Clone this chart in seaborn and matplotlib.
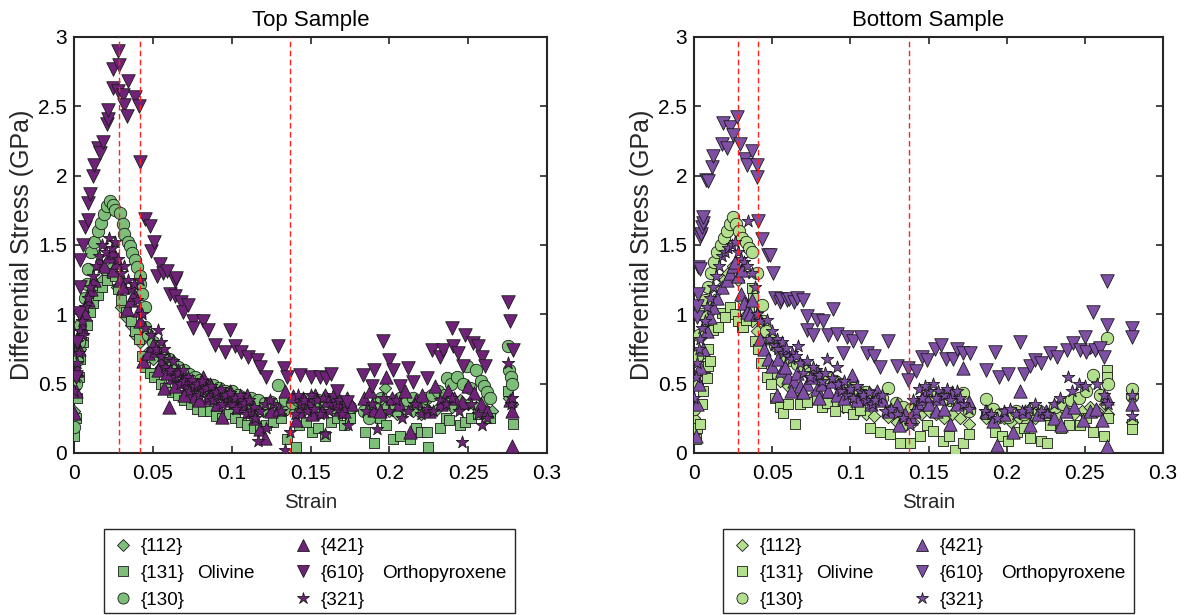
import numpy as np
import pandas as pd
import seaborn as sns
import matplotlib
matplotlib.use("Agg")
import matplotlib.pyplot as plt
from matplotlib.lines import Line2D
from matplotlib.patches import Rectangle

# ---------------------------------------------------------------------------
# Lattice-plane stresses (strain, differential stress in GPa)
# ---------------------------------------------------------------------------
top_112 = [(0.000, 0.30), (0.002, 0.55), (0.004, 0.75), (0.006, 0.90), (0.008, 1.00), (0.010, 1.05),
           (0.012, 1.10), (0.015, 1.20), (0.018, 1.25), (0.021, 1.30), (0.024, 1.35), (0.027, 1.20),
           (0.030, 1.05), (0.033, 0.98), (0.036, 0.92), (0.039, 0.85), (0.042, 0.80), (0.046, 0.72),
           (0.050, 0.68), (0.055, 0.62), (0.060, 0.58), (0.065, 0.55), (0.070, 0.50), (0.075, 0.48),
           (0.080, 0.45), (0.085, 0.42), (0.090, 0.40), (0.095, 0.38), (0.100, 0.36), (0.105, 0.35),
           (0.110, 0.33), (0.115, 0.30), (0.120, 0.30), (0.125, 0.28), (0.130, 0.30), (0.135, 0.32),
           (0.140, 0.30), (0.145, 0.33), (0.150, 0.30), (0.155, 0.28), (0.160, 0.32), (0.165, 0.30),
           (0.170, 0.33), (0.175, 0.30), (0.185, 0.32), (0.190, 0.35), (0.197, 0.47), (0.200, 0.30),
           (0.205, 0.28), (0.210, 0.32), (0.215, 0.30), (0.220, 0.28), (0.225, 0.30), (0.230, 0.32),
           (0.235, 0.35), (0.240, 0.33), (0.245, 0.38), (0.250, 0.35), (0.255, 0.33), (0.260, 0.38),
           (0.265, 0.30), (0.276, 0.40), (0.278, 0.35)]

top_131 = [(0.000, 0.12), (0.001, 0.25), (0.002, 0.40), (0.003, 0.55), (0.004, 0.68), (0.006, 0.80),
           (0.008, 0.92), (0.010, 1.02), (0.012, 1.08), (0.015, 1.14), (0.018, 1.20), (0.021, 1.25),
           (0.024, 1.30), (0.026, 1.28), (0.028, 1.18), (0.030, 1.10), (0.033, 1.02), (0.036, 0.95),
           (0.039, 0.88), (0.041, 0.82), (0.043, 0.70), (0.045, 0.62), (0.048, 0.58), (0.051, 0.55),
           (0.055, 0.50), (0.058, 0.47), (0.062, 0.44), (0.066, 0.42), (0.070, 0.38), (0.074, 0.35),
           (0.078, 0.32), (0.082, 0.30), (0.086, 0.30), (0.090, 0.27), (0.094, 0.25), (0.098, 0.28),
           (0.102, 0.25), (0.106, 0.22), (0.110, 0.20), (0.114, 0.18), (0.118, 0.17), (0.122, 0.20),
           (0.126, 0.22), (0.131, 0.25), (0.135, 0.10), (0.141, 0.04), (0.143, 0.20), (0.147, 0.22),
           (0.151, 0.15), (0.155, 0.18), (0.159, 0.12), (0.163, 0.22), (0.167, 0.25), (0.171, 0.20),
           (0.175, 0.25), (0.1845, 0.15), (0.190, 0.07), (0.194, 0.25), (0.198, 0.20), (0.2025, 0.10),
           (0.207, 0.12), (0.213, 0.10), (0.217, 0.18), (0.220, 0.15), (0.2236, 0.15), (0.2247, 0.045),
           (0.232, 0.18), (0.236, 0.25), (0.238, 0.24), (0.2448, 0.20), (0.248, 0.22), (0.252, 0.25),
           (0.256, 0.28), (0.260, 0.30), (0.264, 0.25), (0.275, 0.45), (0.2786, 0.21)]

top_130 = [(0.000, 0.19), (0.001, 0.50), (0.002, 0.67), (0.003, 0.80), (0.004, 0.92), (0.005, 1.02),
           (0.007, 1.12), (0.008, 1.22), (0.009, 1.33), (0.011, 1.45), (0.013, 1.52), (0.015, 1.60),
           (0.017, 1.66), (0.019, 1.72), (0.021, 1.78), (0.023, 1.82), (0.025, 1.79), (0.026, 1.75),
           (0.029, 1.73), (0.031, 1.65), (0.032, 1.58), (0.034, 1.52), (0.0355, 1.49), (0.037, 1.44),
           (0.0387, 1.39), (0.040, 1.34), (0.042, 1.28), (0.042, 1.22), (0.043, 1.15), (0.045, 1.05),
           (0.045, 0.91), (0.047, 0.85), (0.050, 0.80), (0.053, 0.76), (0.056, 0.72), (0.060, 0.68),
           (0.063, 0.65), (0.066, 0.62), (0.070, 0.60), (0.073, 0.57), (0.077, 0.55), (0.080, 0.53),
           (0.084, 0.50), (0.088, 0.49), (0.092, 0.47), (0.096, 0.45), (0.100, 0.45), (0.104, 0.42),
           (0.108, 0.40), (0.112, 0.40), (0.117, 0.38), (0.121, 0.36), (0.125, 0.37), (0.1296, 0.49),
           (0.134, 0.38), (0.138, 0.36), (0.142, 0.38), (0.147, 0.36), (0.151, 0.40), (0.155, 0.38),
           (0.159, 0.36), (0.163, 0.37), (0.167, 0.38), (0.171, 0.35), (0.175, 0.33), (0.184, 0.30),
           (0.187, 0.25), (0.191, 0.33), (0.195, 0.40), (0.199, 0.33), (0.203, 0.35), (0.207, 0.40),
           (0.211, 0.38), (0.215, 0.40), (0.219, 0.36), (0.223, 0.40), (0.227, 0.42), (0.231, 0.45),
           (0.235, 0.42), (0.2363, 0.54), (0.239, 0.50), (0.243, 0.55), (0.247, 0.50), (0.249, 0.63),
           (0.251, 0.47), (0.255, 0.60), (0.258, 0.52), (0.260, 0.48), (0.2617, 0.44), (0.264, 0.40),
           (0.275, 0.77), (0.276, 0.60), (0.277, 0.55), (0.278, 0.50)]

top_421 = [(0.000, 0.29), (0.001, 0.45), (0.002, 0.60), (0.003, 0.75), (0.005, 0.90), (0.007, 1.00),
           (0.009, 1.10), (0.011, 1.18), (0.013, 1.25), (0.0165, 1.37), (0.019, 1.35), (0.022, 1.42),
           (0.025, 1.32), (0.025, 1.45), (0.027, 1.38), (0.029, 1.25), (0.031, 1.20), (0.0334, 1.04),
           (0.036, 1.10), (0.038, 1.15), (0.041, 1.03), (0.042, 0.95), (0.044, 0.66), (0.047, 0.72),
           (0.050, 0.78), (0.052, 0.74), (0.055, 0.65), (0.057, 0.47), (0.060, 0.33), (0.063, 0.55),
           (0.066, 0.60), (0.069, 0.52), (0.072, 0.48), (0.075, 0.45), (0.077, 0.41), (0.080, 0.50),
           (0.082, 0.55), (0.085, 0.40), (0.088, 0.45), (0.091, 0.35), (0.094, 0.26), (0.097, 0.40),
           (0.100, 0.38), (0.104, 0.33), (0.108, 0.40), (0.112, 0.30), (0.115, 0.25), (0.118, 0.17),
           (0.121, 0.11), (0.125, 0.30), (0.130, 0.32), (0.134, 0.45), (0.139, 0.41), (0.141, 0.24),
           (0.145, 0.40), (0.149, 0.35), (0.153, 0.42), (0.157, 0.30), (0.161, 0.38), (0.165, 0.42),
           (0.169, 0.32), (0.173, 0.40), (0.176, 0.35), (0.184, 0.40), (0.188, 0.45), (0.190, 0.31),
           (0.194, 0.30), (0.198, 0.55), (0.202, 0.40), (0.206, 0.35), (0.210, 0.45), (0.213, 0.15),
           (0.217, 0.38), (0.221, 0.42), (0.225, 0.30), (0.229, 0.48), (0.233, 0.35), (0.237, 0.45),
           (0.241, 0.40), (0.246, 0.37), (0.250, 0.48), (0.254, 0.43), (0.258, 0.35), (0.262, 0.30),
           (0.2765, 0.38), (0.2775, 0.05), (0.278, 0.30),
           (0.053, 0.60), (0.059, 0.58), (0.064, 0.48), (0.070, 0.42), (0.079, 0.38), (0.086, 0.50),
           (0.092, 0.44), (0.099, 0.45), (0.106, 0.36), (0.110, 0.42), (0.143, 0.30), (0.151, 0.28),
           (0.159, 0.42), (0.167, 0.36), (0.171, 0.30)]

top_610 = [(0.001, 0.55), (0.002, 0.80), (0.003, 1.01), (0.004, 1.20), (0.004, 1.39), (0.006, 1.50),
           (0.007, 1.63), (0.009, 1.68), (0.009, 1.80), (0.010, 1.87), (0.012, 2.00), (0.013, 2.08),
           (0.015, 2.20), (0.0165, 2.16), (0.0186, 2.24), (0.0207, 2.37), (0.0218, 2.41), (0.0218, 2.47),
           (0.025, 2.63), (0.025, 2.77), (0.028, 2.61), (0.028, 2.90), (0.0287, 2.80), (0.031, 2.58),
           (0.032, 2.51), (0.0334, 2.43), (0.0344, 2.68), (0.0387, 2.57), (0.041, 2.50), (0.042, 2.10),
           (0.045, 1.69), (0.048, 1.64), (0.049, 1.46), (0.051, 1.52), (0.0524, 1.28), (0.0545, 1.36),
           (0.0567, 1.30), (0.059, 1.31), (0.061, 1.15), (0.064, 1.24), (0.064, 1.13), (0.065, 1.26),
           (0.068, 1.09), (0.069, 1.02), (0.0725, 1.07), (0.0757, 0.95), (0.0757, 0.90), (0.082, 0.95),
           (0.085, 0.89), (0.0894, 0.78), (0.0957, 0.73), (0.099, 0.89), (0.102, 0.77), (0.106, 0.73),
           (0.1105, 0.69), (0.116, 0.67), (0.118, 0.62), (0.122, 0.55), (0.1296, 0.77), (0.133, 0.61),
           (0.135, 0.55), (0.1433, 0.56), (0.150, 0.55), (0.156, 0.55), (0.160, 0.54), (0.163, 0.57),
           (0.1666, 0.45), (0.173, 0.37), (0.1835, 0.56), (0.189, 0.48), (0.190, 0.60), (0.196, 0.81),
           (0.200, 0.67), (0.2025, 0.60), (0.2067, 0.48), (0.212, 0.61), (0.215, 0.51), (0.2236, 0.54),
           (0.2268, 0.74), (0.232, 0.69), (0.234, 0.74), (0.2395, 0.90), (0.2405, 0.77), (0.2437, 0.72),
           (0.247, 0.63), (0.248, 0.85), (0.253, 0.79), (0.2564, 0.77), (0.2585, 0.69), (0.2606, 0.63),
           (0.2754, 1.09), (0.2765, 0.95), (0.2786, 0.74)]

top_321 = [(0.000, 0.45), (0.001, 0.55), (0.002, 0.65), (0.002, 0.80), (0.003, 0.72), (0.004, 0.88),
           (0.005, 0.95), (0.006, 0.85), (0.007, 1.05), (0.009, 1.12), (0.010, 1.20), (0.012, 1.28),
           (0.014, 1.35), (0.016, 1.42), (0.018, 1.50), (0.020, 1.45), (0.022, 1.55), (0.024, 1.48),
           (0.026, 1.52), (0.028, 1.40), (0.030, 1.30), (0.032, 1.35), (0.034, 1.25), (0.036, 1.18),
           (0.038, 1.22), (0.040, 1.10), (0.042, 1.25), (0.043, 1.00), (0.045, 0.90), (0.0486, 0.85),
           (0.0535, 0.89), (0.052, 0.75), (0.055, 0.70), (0.058, 0.62), (0.061, 0.60), (0.064, 0.55),
           (0.067, 0.50), (0.070, 0.52), (0.073, 0.45), (0.076, 0.48), (0.079, 0.42), (0.082, 0.45),
           (0.085, 0.40), (0.088, 0.38), (0.091, 0.42), (0.094, 0.35), (0.097, 0.40), (0.100, 0.35),
           (0.103, 0.32), (0.106, 0.38), (0.109, 0.28), (0.112, 0.30), (0.115, 0.25), (0.117, 0.09),
           (0.122, 0.18), (0.126, 0.35), (0.131, 0.30), (0.134, 0.025), (0.137, 0.15), (0.140, 0.28),
           (0.144, 0.35), (0.148, 0.30), (0.152, 0.32), (0.156, 0.28), (0.159, 0.14), (0.162, 0.30),
           (0.166, 0.35), (0.170, 0.28), (0.174, 0.20), (0.185, 0.30), (0.189, 0.35), (0.192, 0.17),
           (0.196, 0.40), (0.200, 0.30), (0.204, 0.38), (0.208, 0.25), (0.212, 0.30), (0.216, 0.35),
           (0.220, 0.28), (0.224, 0.32), (0.228, 0.30), (0.232, 0.38), (0.236, 0.35), (0.240, 0.40),
           (0.244, 0.30), (0.246, 0.08), (0.252, 0.35), (0.256, 0.28), (0.259, 0.20), (0.262, 0.25),
           (0.2755, 0.65), (0.277, 0.35), (0.278, 0.40),
           (0.055, 0.80), (0.057, 0.75), (0.060, 0.68), (0.063, 0.66), (0.066, 0.58), (0.069, 0.60),
           (0.072, 0.55), (0.075, 0.53), (0.078, 0.50), (0.081, 0.52), (0.084, 0.47), (0.087, 0.48),
           (0.090, 0.44), (0.093, 0.46), (0.096, 0.42), (0.099, 0.43), (0.102, 0.40), (0.105, 0.42),
           (0.108, 0.36), (0.111, 0.38), (0.114, 0.33), (0.118, 0.30), (0.121, 0.35), (0.124, 0.38),
           (0.142, 0.42), (0.146, 0.38), (0.150, 0.42), (0.154, 0.38), (0.158, 0.40), (0.164, 0.42),
           (0.168, 0.38), (0.172, 0.36)]

bottom_112 = [(0.000, 0.25), (0.002, 0.50), (0.004, 0.70), (0.006, 0.85), (0.008, 0.95), (0.010, 1.02),
              (0.013, 1.10), (0.016, 1.18), (0.019, 1.25), (0.022, 1.30), (0.025, 1.35), (0.028, 1.25),
              (0.031, 1.10), (0.034, 1.00), (0.037, 0.95), (0.040, 0.88), (0.043, 0.75), (0.047, 0.65),
              (0.051, 0.58), (0.055, 0.52), (0.060, 0.48), (0.065, 0.45), (0.070, 0.42), (0.075, 0.40),
              (0.080, 0.38), (0.085, 0.36), (0.090, 0.35), (0.095, 0.33), (0.100, 0.32), (0.105, 0.30),
              (0.110, 0.28), (0.115, 0.27), (0.1244, 0.26), (0.130, 0.22), (0.135, 0.20), (0.140, 0.22),
              (0.145, 0.28), (0.150, 0.30), (0.155, 0.28), (0.160, 0.25), (0.165, 0.28), (0.170, 0.25),
              (0.176, 0.21), (0.187, 0.25), (0.192, 0.22), (0.198, 0.25), (0.203, 0.22), (0.208, 0.25),
              (0.213, 0.22), (0.218, 0.25), (0.223, 0.28), (0.228, 0.25), (0.233, 0.28), (0.238, 0.30),
              (0.243, 0.28), (0.248, 0.30), (0.253, 0.33), (0.258, 0.30), (0.263, 0.35), (0.265, 0.28),
              (0.280, 0.40), (0.280, 0.22)]

bottom_131 = [(0.001, 0.10), (0.002, 0.18), (0.0038, 0.21), (0.005, 0.35), (0.006, 0.45), (0.007, 0.55),
              (0.008, 0.54), (0.0092, 0.63), (0.0092, 0.75), (0.0102, 0.66), (0.0123, 0.89), (0.0155, 0.91),
              (0.0177, 1.01), (0.020, 0.98), (0.023, 1.05), (0.026, 1.00), (0.028, 0.95), (0.0305, 0.91),
              (0.0316, 0.91), (0.033, 0.96), (0.035, 1.05), (0.0369, 1.19), (0.038, 1.12), (0.039, 0.81),
              (0.041, 0.75), (0.043, 0.65), (0.0465, 0.55), (0.049, 0.50), (0.052, 0.40), (0.055, 0.33),
              (0.057, 0.29), (0.060, 0.35), (0.0646, 0.21), (0.068, 0.35), (0.072, 0.37), (0.0785, 0.40),
              (0.082, 0.33), (0.085, 0.36), (0.090, 0.30), (0.0977, 0.33), (0.102, 0.28), (0.106, 0.31),
              (0.1126, 0.18), (0.119, 0.15), (0.1254, 0.14), (0.132, 0.07), (0.138, 0.07), (0.1446, 0.12),
              (0.149, 0.20), (0.153, 0.16), (0.1595, 0.09), (0.163, 0.12), (0.167, 0.02), (0.172, 0.07),
              (0.176, 0.14), (0.187, 0.28), (0.1926, 0.15), (0.197, 0.12), (0.201, 0.09), (0.2065, 0.15),
              (0.211, 0.18), (0.215, 0.11), (0.222, 0.09), (0.226, 0.07), (0.228, 0.20), (0.2346, 0.18),
              (0.240, 0.20), (0.247, 0.20), (0.251, 0.25), (0.2555, 0.15), (0.262, 0.12), (0.264, 0.60),
              (0.264, 0.55), (0.265, 0.25), (0.280, 0.21), (0.280, 0.17)]

bottom_130 = [(0.000, 0.32), (0.001, 0.50), (0.002, 0.70), (0.003, 0.85), (0.005, 1.00), (0.007, 1.10),
              (0.009, 1.20), (0.011, 1.30), (0.013, 1.38), (0.015, 1.45), (0.017, 1.50), (0.019, 1.55),
              (0.021, 1.60), (0.023, 1.65), (0.025, 1.70), (0.027, 1.65), (0.029, 1.60), (0.031, 1.55),
              (0.033, 1.52), (0.035, 1.48), (0.037, 1.45), (0.040, 1.30), (0.0433, 1.07), (0.044, 0.95),
              (0.046, 0.88), (0.049, 0.82), (0.052, 0.78), (0.055, 0.74), (0.058, 0.70), (0.062, 0.67),
              (0.066, 0.64), (0.070, 0.60), (0.074, 0.58), (0.078, 0.58), (0.082, 0.55), (0.086, 0.55),
              (0.090, 0.52), (0.094, 0.50), (0.098, 0.48), (0.102, 0.47), (0.106, 0.45), (0.110, 0.44),
              (0.115, 0.42), (0.120, 0.40), (0.1244, 0.47), (0.129, 0.36), (0.134, 0.33), (0.139, 0.32),
              (0.144, 0.36), (0.149, 0.40), (0.154, 0.42), (0.159, 0.40), (0.164, 0.38), (0.168, 0.36),
              (0.172, 0.43), (0.176, 0.30), (0.187, 0.39), (0.191, 0.32), (0.196, 0.28), (0.201, 0.26),
              (0.206, 0.30), (0.211, 0.28), (0.216, 0.32), (0.221, 0.30), (0.226, 0.28), (0.231, 0.33),
              (0.236, 0.35), (0.241, 0.38), (0.246, 0.40), (0.251, 0.45), (0.2555, 0.56), (0.260, 0.42),
              (0.264, 0.83), (0.265, 0.50), (0.280, 0.41), (0.280, 0.46)]

bottom_421 = [(0.001, 0.12), (0.002, 0.35), (0.003, 0.50), (0.004, 0.62), (0.006, 0.75), (0.008, 0.88),
              (0.010, 0.98), (0.012, 1.05), (0.015, 1.12), (0.018, 1.20), (0.021, 1.25), (0.023, 1.30),
              (0.025, 1.35), (0.026, 1.38), (0.028, 1.28), (0.0305, 1.32), (0.030, 1.15), (0.032, 1.08),
              (0.034, 1.02), (0.036, 1.00), (0.037, 1.10), (0.040, 1.00), (0.042, 0.82), (0.045, 0.75),
              (0.0475, 0.68), (0.050, 0.63), (0.053, 0.42), (0.056, 0.60), (0.060, 0.55), (0.064, 0.52),
              (0.068, 0.48), (0.072, 0.50), (0.0785, 0.46), (0.082, 0.50), (0.086, 0.45), (0.0913, 0.42),
              (0.096, 0.40), (0.101, 0.56), (0.106, 0.43), (0.110, 0.40), (0.113, 0.35), (0.117, 0.45),
              (0.120, 0.38), (0.125, 0.30), (0.1297, 0.35), (0.131, 0.20), (0.135, 0.28), (0.139, 0.25),
              (0.143, 0.35), (0.146, 0.40), (0.150, 0.35), (0.155, 0.30), (0.160, 0.32), (0.1638, 0.21),
              (0.168, 0.35), (0.172, 0.61), (0.176, 0.37), (0.187, 0.30), (0.1915, 0.23), (0.1937, 0.06),
              (0.198, 0.28), (0.204, 0.15), (0.2085, 0.45), (0.212, 0.30), (0.215, 0.20), (0.220, 0.28),
              (0.225, 0.30), (0.230, 0.25), (0.2346, 0.20), (0.238, 0.30), (0.243, 0.33), (0.249, 0.24),
              (0.253, 0.30), (0.257, 0.32), (0.261, 0.24), (0.264, 0.05), (0.264, 0.40), (0.280, 0.35),
              (0.054, 0.68), (0.058, 0.62), (0.062, 0.45), (0.066, 0.58), (0.070, 0.44), (0.075, 0.55),
              (0.080, 0.40), (0.088, 0.52), (0.094, 0.48), (0.104, 0.38), (0.141, 0.30), (0.148, 0.42),
              (0.157, 0.40), (0.165, 0.44)]

bottom_610 = [(0.0017, 0.98), (0.0017, 1.06), (0.0028, 1.15), (0.0028, 1.34), (0.0038, 1.33), (0.0038, 1.56),
              (0.0045, 1.58), (0.005, 1.63), (0.0058, 1.66), (0.006, 1.70), (0.0075, 1.97), (0.0092, 1.96),
              (0.0113, 2.06), (0.0123, 2.14), (0.0177, 2.23), (0.0188, 2.38), (0.021, 2.20), (0.023, 2.35),
              (0.0251, 2.29), (0.0273, 2.42), (0.0294, 2.23), (0.0326, 2.12), (0.0339, 2.08), (0.0369, 2.18),
              (0.040, 2.08), (0.040, 1.99), (0.0411, 1.67), (0.0433, 1.54), (0.0475, 1.43), (0.0486, 1.43),
              (0.0507, 1.30), (0.052, 1.12), (0.055, 1.09), (0.0557, 1.11), (0.0592, 1.10), (0.061, 1.11),
              (0.064, 1.09), (0.0657, 1.12), (0.070, 1.10), (0.072, 0.99), (0.072, 0.89), (0.0763, 0.85),
              (0.0785, 0.96), (0.0827, 0.95), (0.086, 0.85), (0.089, 1.04), (0.0913, 0.86), (0.0955, 0.72),
              (0.0977, 0.84), (0.102, 0.81), (0.107, 0.84), (0.1105, 0.72), (0.115, 0.70), (0.119, 0.62),
              (0.1244, 0.81), (0.1297, 0.63), (0.137, 0.61), (0.137, 0.53), (0.142, 0.59), (0.1457, 0.69),
              (0.149, 0.67), (0.154, 0.75), (0.158, 0.78), (0.161, 0.68), (0.1655, 0.68), (0.168, 0.75),
              (0.1723, 0.72), (0.1766, 0.72), (0.187, 0.60), (0.1926, 0.73), (0.195, 0.55), (0.201, 0.57),
              (0.2086, 0.80), (0.211, 0.57), (0.215, 0.63), (0.218, 0.67), (0.222, 0.65), (0.2278, 0.72),
              (0.232, 0.69), (0.2385, 0.74), (0.2426, 0.79), (0.247, 0.74), (0.2502, 0.84), (0.251, 0.73),
              (0.2555, 1.02), (0.2566, 0.74), (0.260, 0.76), (0.262, 0.69), (0.264, 1.24), (0.264, 0.92),
              (0.280, 0.90), (0.280, 0.84)]

bottom_321 = [(0.000, 0.40), (0.001, 0.55), (0.002, 0.65), (0.003, 0.75), (0.004, 0.82), (0.005, 0.90),
              (0.007, 0.95), (0.008, 1.05), (0.010, 1.12), (0.012, 1.20), (0.014, 1.28), (0.016, 1.35),
              (0.018, 1.42), (0.020, 1.45), (0.022, 1.48), (0.024, 1.50), (0.026, 1.52), (0.028, 1.45),
              (0.030, 1.40), (0.032, 1.38), (0.034, 1.35), (0.0347, 1.67), (0.037, 1.30), (0.039, 1.20),
              (0.040, 1.00), (0.042, 0.95), (0.0465, 0.96), (0.048, 0.82), (0.051, 0.78), (0.054, 0.75),
              (0.057, 0.72), (0.060, 0.70), (0.063, 0.72), (0.0668, 0.77), (0.070, 0.58), (0.074, 0.55),
              (0.078, 0.60), (0.082, 0.52), (0.085, 0.68), (0.0913, 0.62), (0.094, 0.45), (0.098, 0.42),
              (0.102, 0.40), (0.106, 0.45), (0.110, 0.38), (0.114, 0.35), (0.118, 0.40), (0.122, 0.30),
              (0.126, 0.32), (0.130, 0.28), (0.134, 0.25), (0.138, 0.20), (0.142, 0.30), (0.146, 0.40),
              (0.150, 0.45), (0.153, 0.50), (0.156, 0.45), (0.160, 0.42), (0.164, 0.38), (0.168, 0.45),
              (0.172, 0.35), (0.176, 0.32), (0.186, 0.30), (0.190, 0.28), (0.194, 0.25), (0.198, 0.30),
              (0.202, 0.32), (0.206, 0.28), (0.210, 0.30), (0.214, 0.32), (0.218, 0.35), (0.222, 0.30),
              (0.226, 0.28), (0.230, 0.35), (0.234, 0.40), (0.2395, 0.55), (0.242, 0.45), (0.246, 0.50),
              (0.250, 0.48), (0.2555, 0.75), (0.258, 0.50), (0.262, 0.42), (0.265, 0.35), (0.280, 0.42),
              (0.280, 0.27),
              (0.050, 0.88), (0.053, 0.82), (0.056, 0.80), (0.059, 0.76), (0.062, 0.68), (0.065, 0.70),
              (0.068, 0.65), (0.072, 0.66), (0.076, 0.62), (0.080, 0.56), (0.084, 0.58), (0.088, 0.54),
              (0.092, 0.50), (0.096, 0.52), (0.100, 0.46), (0.104, 0.48), (0.108, 0.42), (0.112, 0.44),
              (0.116, 0.38), (0.120, 0.42), (0.140, 0.38), (0.144, 0.46), (0.148, 0.48), (0.155, 0.40),
              (0.162, 0.46), (0.170, 0.40)]

# Strain markers (vertical reference lines)
top_marks = [0.0285, 0.0419, 0.137]
bottom_marks = [0.0281, 0.0410, 0.1375]

planes = ["{112}", "{131}", "{130}", "{421}", "{610}", "{321}"]
x_ticks = [0, 0.05, 0.1, 0.15, 0.2, 0.25, 0.3]
x_tick_labels = ["0", "0.05", "0.1", "0.15", "0.2", "0.25", "0.3"]
y_ticks = [0, 0.5, 1, 1.5, 2, 2.5, 3]
y_tick_labels = ["0", "0.5", "1", "1.5", "2", "2.5", "3"]

# ---------------------------------------------------------------------------
# Styling
# ---------------------------------------------------------------------------
sns.set_theme(style="white")
plt.rcParams["font.family"] = ["Liberation Sans", "DejaVu Sans"]
INK = "#262626"

marker_style = {  # marker, scatter size (pt^2), legend marker size (pt)
    "{112}": ("D", 40, 6.0),
    "{131}": ("s", 60, 6.5),
    "{130}": ("o", 80, 8.0),
    "{421}": ("^", 92, 8.5),
    "{610}": ("v", 95, 8.5),
    "{321}": ("*", 90, 9.0),
}

fig = plt.figure(figsize=(11.89, 6.15), dpi=100)
W, H = 1189.0, 615.0
ax_top = fig.add_axes([74 / W, 162 / H, 473 / W, 416 / H])
ax_bot = fig.add_axes([694 / W, 162 / H, 469 / W, 416 / H])

panels = [
    (ax_top, "Top Sample", [top_112, top_131, top_130, top_421, top_610, top_321],
     "#7dbf79", "#6f2378", top_marks, 104),
    (ax_bot, "Bottom Sample", [bottom_112, bottom_131, bottom_130, bottom_421, bottom_610, bottom_321],
     "#b3e08d", "#7f4fa6", bottom_marks, 723),
]

draw_order = ["{112}", "{131}", "{130}", "{421}", "{321}", "{610}"]

for ax, title, series, olivine_c, opx_c, marks, legend_left in panels:
    data = dict(zip(planes, series))
    for z, plane in enumerate(draw_order):
        mk, size, _ = marker_style[plane]
        colour = olivine_c if plane in planes[:3] else opx_c
        df = pd.DataFrame(data[plane], columns=["Strain", "Stress"])
        sns.scatterplot(data=df, x="Strain", y="Stress", ax=ax, marker=mk, s=size,
                        color=colour, edgecolor="#1a1a1a", linewidth=0.6,
                        legend=False, zorder=3 + z)

    for xm in marks:
        ax.axvline(xm, color="#ff2020", linewidth=1.0, linestyle=(0, (4, 2.5)), zorder=20)

    ax.set_xlim(0, 0.3)
    ax.set_ylim(0, 3)
    ax.set_xticks(x_ticks)
    ax.set_xticklabels(x_tick_labels)
    ax.set_yticks(y_ticks)
    ax.set_yticklabels(y_tick_labels)
    ax.tick_params(direction="in", length=5, width=1.2, colors=INK, labelsize=15,
                   top=True, right=True, bottom=True, left=True)
    ax.tick_params(axis="x", pad=8)
    ax.tick_params(axis="y", pad=5)
    for lbl in ax.get_xticklabels() + ax.get_yticklabels():
        lbl.set_color("black")
    for sp in ax.spines.values():
        sp.set_visible(True)
        sp.set_color(INK)
        sp.set_linewidth(1.5)
    ax.set_xlabel("Strain", fontsize=14.7, color=INK, labelpad=7)
    ax.set_ylabel("Differential Stress (GPa)", fontsize=18, color=INK, labelpad=3)
    ax.set_title(title, fontsize=16, color="black", pad=8)

    # legend below each panel
    handles = []
    for plane in planes:
        mk, _, lsize = marker_style[plane]
        colour = olivine_c if plane in planes[:3] else opx_c
        handles.append(Line2D([], [], linestyle="none", marker=mk, markersize=lsize,
                              markerfacecolor=colour, markeredgecolor="#1a1a1a",
                              markeredgewidth=0.6))
    leg = fig.legend(handles, planes, ncol=2, loc="upper left",
                     bbox_to_anchor=((legend_left + 10) / W, (H - 538) / H),
                     bbox_transform=fig.transFigure, frameon=False, fontsize=13.6,
                     handlelength=1.0, handletextpad=0.4, columnspacing=5.8,
                     labelspacing=0.5, borderpad=0, borderaxespad=0)
    for t in leg.get_texts():
        t.set_color("black")
    fig.text((legend_left + 93) / W, (H - 573) / H, "Olivine", fontsize=13.6,
             va="center", color="black")
    fig.text((legend_left + 278) / W, (H - 573) / H, "Orthopyroxene", fontsize=13.6,
             va="center", color="black")
    fig.add_artist(Rectangle((legend_left / W, 2 / H), 411 / W, 84 / H, transform=fig.transFigure,
                             fill=False, edgecolor=INK, linewidth=1.0))

fig.savefig("out.png", dpi=100)
